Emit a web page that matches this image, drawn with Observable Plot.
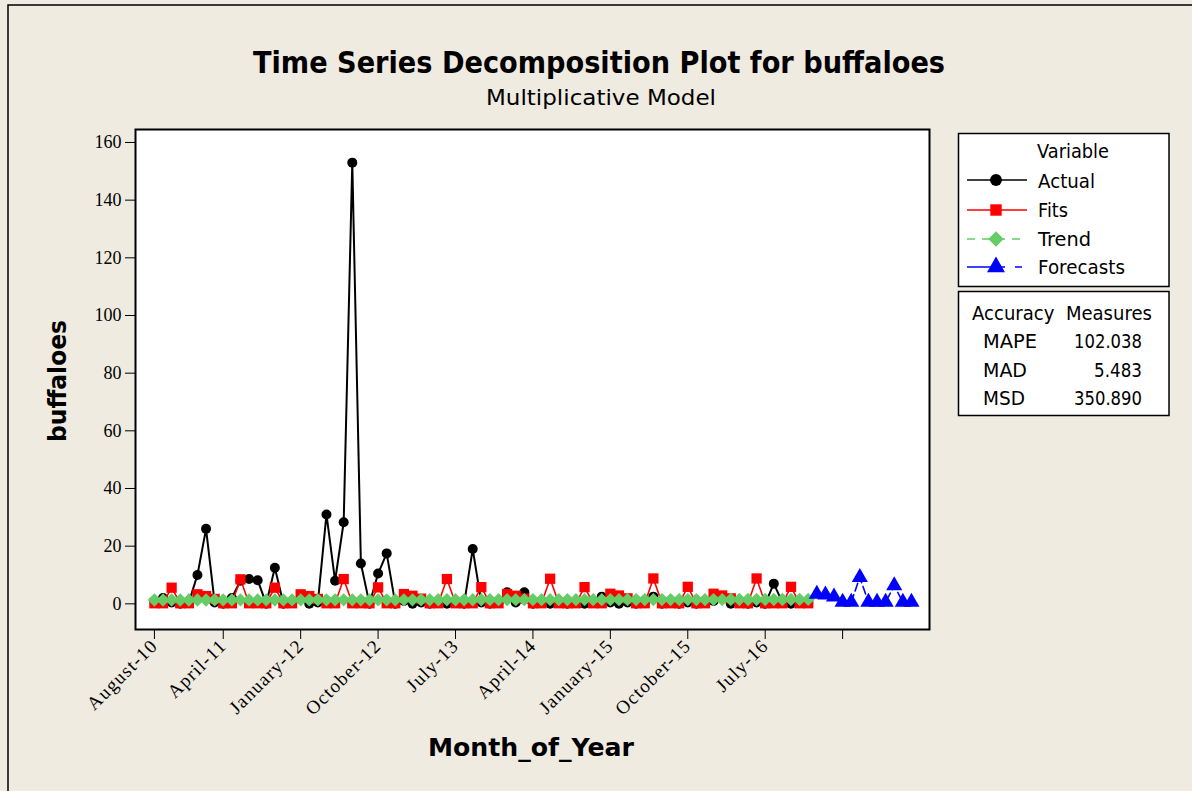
<!DOCTYPE html>
<html><head><meta charset="utf-8">
<script src="https://cdn.jsdelivr.net/npm/d3@7"></script>
<script src="https://cdn.jsdelivr.net/npm/@observablehq/plot@0.6"></script>
<style>
html,body{margin:0;padding:0;background:#EFEBE0;}
#chart{position:relative;width:1192px;height:791px;overflow:hidden;}
</style></head><body><div id="chart"></div>
<script>
// ---- data (time index 1 = August 2010) ----
const tickIndex = [1, 9, 18, 27, 36, 45, 54, 63, 72, 81];
const tickLabels = ["August-10", "April-11", "January-12", "October-12", "July-13", "April-14", "January-15", "October-15", "July-16", ""];
const yTicks = [0, 20, 40, 60, 80, 100, 120, 140, 160];

const actual = [
  1.0, 2.0, 0.5, 0.0, 0.5, 10.0, 26.0, 0.5, 0.0, 2.0,
  8.0, 8.6, 8.2, 0.0, 12.5, 0.0, 0.5, 2.0, 0.0, 0.5,
  31.0, 8.0, 28.3, 153.0, 14.0, 0.0, 10.5, 17.5, 0.0, 1.0,
  0.0, 0.5, 0.0, 0.5, 0.0, 0.5, 0.0, 19.0, 0.5, 0.0,
  0.5, 4.0, 0.5, 4.0, 0.0, 0.5, 0.0, 0.5, 0.0, 0.5,
  0.0, 0.5, 2.5, 0.5, 0.0, 0.5, 0.0, 0.5, 2.5, 0.0,
  0.5, 0.0, 0.5, 0.0, 0.5, 1.0, 2.5, 0.0, 0.5, 0.0,
  0.5, 0.0, 7.0, 0.5, 0.0, 0.5, 0.5
];
const fits = [
  0.2, 0.2, 5.6, 0.2, 0.2, 3.3, 2.7, 1.7, 0.2, 0.2,
  8.5, 0.2, 0.2, 0.2, 5.6, 0.2, 0.2, 3.3, 2.7, 1.7,
  0.2, 0.2, 8.6, 0.2, 0.2, 0.2, 5.7, 0.2, 0.2, 3.4,
  2.8, 1.8, 0.2, 0.2, 8.6, 0.2, 0.2, 0.2, 5.8, 0.2,
  0.2, 3.4, 2.8, 1.8, 0.2, 0.2, 8.7, 0.2, 0.2, 0.2,
  5.8, 0.2, 0.2, 3.5, 2.9, 1.9, 0.2, 0.2, 8.8, 0.2,
  0.2, 0.2, 5.9, 0.2, 0.2, 3.5, 2.9, 1.9, 0.2, 0.2,
  8.8, 0.2, 0.2, 0.2, 5.9, 0.2, 0.2
];
const trend = [
  1.33, 1.33, 1.33, 1.34, 1.34, 1.34, 1.34, 1.35, 1.35, 1.35,
  1.35, 1.36, 1.36, 1.36, 1.36, 1.37, 1.37, 1.37, 1.37, 1.38,
  1.38, 1.38, 1.38, 1.39, 1.39, 1.39, 1.39, 1.40, 1.40, 1.40,
  1.40, 1.41, 1.41, 1.41, 1.41, 1.42, 1.42, 1.42, 1.42, 1.43,
  1.43, 1.43, 1.43, 1.44, 1.44, 1.44, 1.44, 1.45, 1.45, 1.45,
  1.45, 1.46, 1.46, 1.46, 1.46, 1.47, 1.47, 1.47, 1.47, 1.48,
  1.48, 1.48, 1.48, 1.49, 1.49, 1.49, 1.49, 1.50, 1.50, 1.50,
  1.50, 1.51, 1.51, 1.51, 1.51, 1.52, 1.52
];
const forecasts = [3.4, 3.1, 2.4, 0.6, 0.6, 9.2, 0.6, 0.6, 0.6, 6.3, 0.6, 0.6];
const forecastStart = 78;

const legendNames = ["Actual", "Fits", "Trend", "Forecasts"];
const accuracyNames = ["MAPE", "MAD", "MSD"];
const accuracyValues = ["102.038", "5.483", "350.890"];

// ---- build ----
const rows = (arr, start) => arr.map((v, i) => ({t: start + i, v}));
const A = rows(actual, 1), F = rows(fits, 1), T = rows(trend, 1), FC = rows(forecasts, forecastStart);

const GREEN = "#66CC66", RED = "#FF0000", BLUE = "#0000FF";
const SANS = "'DejaVu Sans', Verdana, sans-serif";

const plot = Plot.plot({
  width: 1192, height: 791,
  marginLeft: 135, marginRight: 263, marginTop: 129, marginBottom: 162,
  style: {background: "#EFEBE0", fontFamily: "'Liberation Serif', 'Times New Roman', serif", fontSize: "18px", color: "black", overflow: "visible"},
  x: {domain: [-1.2, 91.1]},
  y: {domain: [-8.9, 164.5]},
  marks: [
    Plot.frame({fill: "white", stroke: "none"}),
    Plot.axisY({ticks: yTicks, tickSize: 10, tickPadding: 4, label: null, fontSize: 18, tickFormat: d => String(d)}),
    Plot.axisX({ticks: tickIndex, tickFormat: d => tickLabels[tickIndex.indexOf(d)], tickSize: 10, tickPadding: 3, tickRotate: -45, label: null, fontSize: 19}),
    Plot.line(A, {x: "t", y: "v", stroke: "black", strokeWidth: 2}),
    Plot.dot(A, {x: "t", y: "v", fill: "black", stroke: "none", r: 5, symbol: "circle"}),
    Plot.line(F, {x: "t", y: "v", stroke: RED, strokeWidth: 1.6}),
    Plot.dot(F, {x: "t", y: "v", fill: RED, stroke: "none", r: 5.8, symbol: "square"}),
    Plot.line(T, {x: "t", y: "v", stroke: GREEN, strokeWidth: 1.6, strokeDasharray: "8,6"}),
    Plot.dot(T, {x: "t", y: "v", fill: GREEN, stroke: "none", r: 6, symbol: "diamond2"}),
    Plot.line(FC, {x: "t", y: "v", stroke: BLUE, strokeWidth: 1.6, strokeDasharray: "8,4"}),
    Plot.dot(FC, {x: "t", y: "v", fill: BLUE, stroke: "none", r: 6, symbol: "triangle"}),
    Plot.frame({stroke: "black", strokeWidth: 2})
  ]
});

document.getElementById("chart").appendChild(plot);
const svg = d3.select(plot);

// wider letter spacing on the rotated month labels
svg.selectAll('[aria-label="x-axis tick label"] text').attr("letter-spacing", "1.2px");

// outer border (top and left visible)
svg.append("rect").attr("x", 8).attr("y", 5).attr("width", 3000).attr("height", 3000)
  .attr("fill", "none").attr("stroke", "black").attr("stroke-width", 1.5);

function txt(s, x, y, opts) {
  const t = svg.append("text").attr("x", x).attr("y", y).text(s)
    .attr("font-family", opts.family || SANS)
    .attr("font-size", opts.size)
    .attr("font-weight", opts.weight || "normal")
    .attr("fill", "black")
    .attr("text-anchor", opts.anchor || "start");
  if (opts.len) t.attr("textLength", opts.len).attr("lengthAdjust", "spacingAndGlyphs");
  if (opts.rotate) t.attr("transform", `rotate(${opts.rotate},${x},${y})`);
  return t;
}

// titles
txt("Time Series Decomposition Plot for buffaloes", 599, 73, {size: 31, weight: "bold", anchor: "middle", len: 692});
txt("Multiplicative Model", 601, 105, {size: 22, anchor: "middle", len: 230});
txt("Month_of_Year", 531, 756, {size: 25, weight: "bold", anchor: "middle", len: 206});
txt("buffaloes", 66, 381, {size: 25, weight: "bold", anchor: "middle", len: 122, rotate: -90});

// legend box
svg.append("rect").attr("x", 958.5).attr("y", 133.5).attr("width", 210.5).attr("height", 153)
  .attr("fill", "white").attr("stroke", "black").attr("stroke-width", 1.5);
txt("Variable", 1073, 158, {size: 19, anchor: "middle", len: 72});
const legY = [180, 210, 239, 267];
const legTextY = [188, 217, 246, 274];
const legTextLen = [57, 30, 53, 87];
const legColor = ["black", RED, GREEN, BLUE];
const legDash = [null, null, "8,7", "38,10,7,10"];
const legSym = [d3.symbolCircle, d3.symbolSquare, d3.symbolDiamond2, d3.symbolTriangle];
const legSize = [110, 130, 150, 140];
legendNames.forEach((name, i) => {
  const ln = svg.append("line").attr("x1", 967).attr("x2", 1027).attr("y1", legY[i]).attr("y2", legY[i])
    .attr("stroke", legColor[i]).attr("stroke-width", 1.6);
  if (legDash[i]) ln.attr("stroke-dasharray", legDash[i]);
  svg.append("path").attr("d", d3.symbol(legSym[i], legSize[i])())
    .attr("transform", `translate(996,${legY[i]})`).attr("fill", legColor[i]);
  txt(name, 1038, legTextY[i], {size: 19, len: legTextLen[i]});
});

// accuracy box
svg.append("rect").attr("x", 958.5).attr("y", 291.5).attr("width", 210.5).attr("height", 124)
  .attr("fill", "white").attr("stroke", "black").attr("stroke-width", 1.5);
txt("Accuracy  Measures", 972, 320, {size: 19, len: 180});
const accY = [348, 377, 405];
const accLabLen = [54, 44, 42];
const accValLen = [68, 48, 68];
accuracyNames.forEach((n, i) => {
  txt(n, 983, accY[i], {size: 19, len: accLabLen[i]});
  txt(accuracyValues[i], 1142, accY[i], {size: 19, anchor: "end", len: accValLen[i]});
});
</script></body></html>
